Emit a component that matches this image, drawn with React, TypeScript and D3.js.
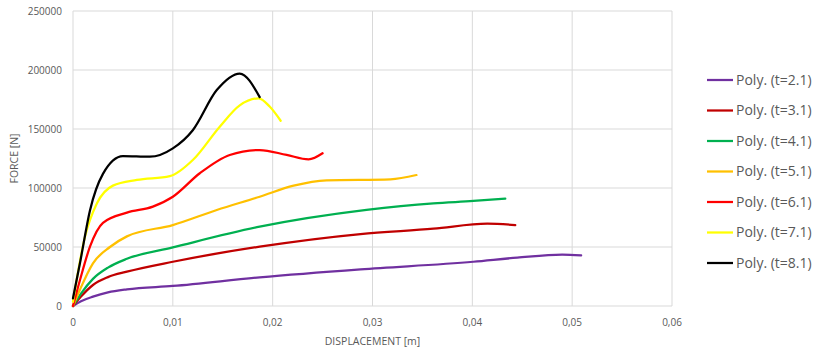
import { useEffect, useRef } from "react";
import * as d3 from "d3";

// series: [displacement m, force N]
const seriesNames = ["Poly. (t=2.1)", "Poly. (t=3.1)", "Poly. (t=4.1)", "Poly. (t=5.1)", "Poly. (t=6.1)", "Poly. (t=7.1)", "Poly. (t=8.1)"];
const seriesColors = ["#7030a0", "#c00000", "#00b050", "#ffc000", "#ff0000", "#ffff00", "#000000"];

const t21: [number, number][] = [[0, 0], [0.0008, 4000], [0.002, 7900], [0.0035, 11500], [0.0054, 14100], [0.01, 17000], [0.0187, 24300], [0.0288, 31100], [0.0401, 37500], [0.0445, 41000], [0.049, 43600], [0.0509, 42800]];
const t31: [number, number][] = [[0, 0], [0.0008, 8000], [0.002, 17800], [0.0035, 24500], [0.0054, 29100], [0.01, 37500], [0.0187, 50300], [0.0288, 61000], [0.0361, 65500], [0.0415, 69800], [0.0443, 68600]];
const t41: [number, number][] = [[0, 0], [0.0008, 10500], [0.002, 23000], [0.0035, 32500], [0.0054, 40000], [0.01, 49700], [0.0187, 67200], [0.0294, 81400], [0.0361, 87000], [0.0401, 89000], [0.0433, 91000]];
const t51: [number, number][] = [[0, 0], [0.0007, 14000], [0.002, 36200], [0.0037, 50000], [0.0054, 59000], [0.01, 68600], [0.0144, 81400], [0.0187, 92600], [0.0221, 102000], [0.0254, 106500], [0.0318, 107400], [0.0344, 111000]];
const t61: [number, number][] = [[0, 0], [0.0007, 22000], [0.0017, 50300], [0.003, 70500], [0.0054, 79100], [0.008, 84200], [0.01, 92600], [0.0127, 112500], [0.0157, 128000], [0.0187, 132200], [0.0214, 128000], [0.0236, 124300], [0.025, 129400]];
const t71: [number, number][] = [[0, 3600], [0.0012, 58700], [0.0024, 87000], [0.004, 102000], [0.0064, 106800], [0.0097, 110000], [0.012, 123700], [0.0147, 152000], [0.0167, 170000], [0.0186, 176000], [0.0197, 169000], [0.0208, 157000]];
const t81: [number, number][] = [[0, 6500], [0.0007, 36400], [0.0017, 81000], [0.003, 112000], [0.005, 127000], [0.0077, 126500], [0.01, 133600], [0.012, 149000], [0.0144, 183000], [0.0167, 197000], [0.0187, 177000]];
const allSeries = [t21, t31, t41, t51, t61, t71, t81];

const xTicks = [0, 0.01, 0.02, 0.03, 0.04, 0.05, 0.06];
const yTicks = [0, 50000, 100000, 150000, 200000, 250000];

const App = () => {
  const svgRef = useRef<SVGSVGElement>(null);

  useEffect(() => {
    const svg = d3.select(svgRef.current);
    svg.selectAll("*").remove();

    const font = "'Open Sans', sans-serif";
    const textColor = "#595959";
    const gridColor = "#d9d9d9";

    const x = d3.scaleLinear().domain([0, 0.06]).range([73, 672]);
    const y = d3.scaleLinear().domain([0, 250000]).range([306, 11]);

    // grid
    svg.append("g")
      .selectAll("line")
      .data(yTicks)
      .join("line")
      .attr("x1", x(0)).attr("x2", x(0.06))
      .attr("y1", d => y(d)).attr("y2", d => y(d))
      .attr("stroke", gridColor).attr("stroke-width", 1);
    svg.append("g")
      .selectAll("line")
      .data(xTicks)
      .join("line")
      .attr("x1", d => x(d)).attr("x2", d => x(d))
      .attr("y1", y(0)).attr("y2", y(250000))
      .attr("stroke", gridColor).attr("stroke-width", 1);

    // tick labels
    svg.append("g")
      .selectAll("text")
      .data(yTicks)
      .join("text")
      .attr("x", 62).attr("y", d => y(d))
      .attr("dy", "0.35em")
      .attr("text-anchor", "end")
      .style("font-family", font).style("font-size", "10px")
      .attr("fill", textColor)
      .text(d => String(d));
    svg.append("g")
      .selectAll("text")
      .data(xTicks)
      .join("text")
      .attr("x", d => x(d)).attr("y", 322)
      .attr("dy", "0.35em")
      .attr("text-anchor", "middle")
      .style("font-family", font).style("font-size", "10px")
      .attr("fill", textColor)
      .text(d => (d === 0 ? "0" : d.toFixed(2).replace(".", ",")));

    // axis titles
    svg.append("text")
      .attr("x", (x(0) + x(0.06)) / 2).attr("y", 341)
      .attr("dy", "0.35em")
      .attr("text-anchor", "middle")
      .style("font-family", font).style("font-size", "10.5px")
      .attr("fill", textColor)
      .text("DISPLACEMENT [m]");
    svg.append("text")
      .attr("transform", `translate(14,${(y(0) + y(250000)) / 2}) rotate(-90)`)
      .attr("dy", "0.35em")
      .attr("text-anchor", "middle")
      .style("font-family", font).style("font-size", "10.5px")
      .attr("fill", textColor)
      .text("FORCE [N]");

    // curves
    const line = d3.line<[number, number]>()
      .x(d => x(d[0]))
      .y(d => y(d[1]))
      .curve(d3.curveMonotoneX);

    svg.append("g")
      .selectAll("path")
      .data(allSeries)
      .join("path")
      .attr("d", d => line(d))
      .attr("fill", "none")
      .attr("stroke", (_, i) => seriesColors[i])
      .attr("stroke-width", 2.25)
      .attr("stroke-linecap", "round");

    // legend
    const legend = svg.append("g");
    seriesNames.forEach((name, i) => {
      const ly = 80 + i * 30.5;
      legend.append("line")
        .attr("x1", 707).attr("x2", 733)
        .attr("y1", ly).attr("y2", ly)
        .attr("stroke", seriesColors[i])
        .attr("stroke-width", 2.25);
      legend.append("text")
        .attr("x", 736).attr("y", ly)
        .attr("dy", "0.35em")
        .style("font-family", font).style("font-size", "14px")
        .attr("fill", textColor)
        .text(name);
    });
  }, []);

  return (
    <svg
      ref={svgRef}
      width={840}
      height={354}
      style={{ position: "absolute", left: 0, top: 0, background: "#ffffff" }}
    ></svg>
  );
};

export default App;
